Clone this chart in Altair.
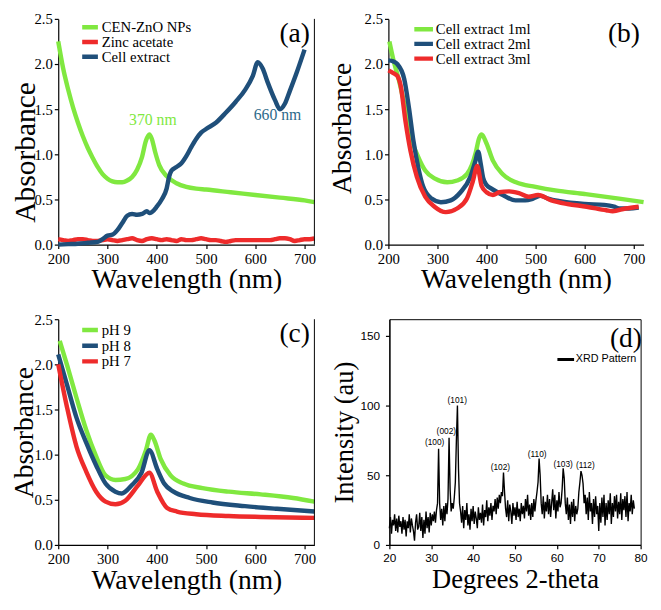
import altair as alt
import pandas as pd
import numpy as np

SERIF = "Liberation Serif"
SANS = "Liberation Sans"
GREEN = "#80e840"
RED = "#ee2b2b"
BLUE = "#1f4f7a"
LEG_PATH = "M-3,0H3"

# ---------------- Panel (a) ----------------
a_green_x = [200, 210, 220, 230, 240, 250, 260, 270, 280, 290, 300, 310, 320, 330, 340, 350, 360, 370, 378, 385, 390, 397, 405, 420, 440, 460, 480, 500, 550, 600, 650, 700, 720]
a_green_y = [2.25, 1.95, 1.72, 1.52, 1.35, 1.20, 1.07, 0.96, 0.86, 0.78, 0.73, 0.70, 0.69, 0.69, 0.71, 0.75, 0.83, 0.97, 1.15, 1.22, 1.17, 1.02, 0.88, 0.76, 0.68, 0.64, 0.62, 0.61, 0.58, 0.55, 0.52, 0.49, 0.47]
a_red_x = list(range(200, 730, 10))
a_red_y = [0.06, 0.05, 0.04, 0.05, 0.06, 0.06, 0.05, 0.04, 0.04, 0.05, 0.06, 0.05, 0.04, 0.05, 0.06, 0.07, 0.05, 0.04, 0.06, 0.07,
           0.06, 0.05, 0.06, 0.05, 0.04, 0.06, 0.05, 0.05, 0.06, 0.07, 0.06, 0.05, 0.05, 0.04, 0.03, 0.04, 0.05, 0.05, 0.05, 0.05,
           0.05, 0.05, 0.05, 0.05, 0.06, 0.07, 0.07, 0.06, 0.04, 0.05, 0.06, 0.06, 0.07]
a_blue_x = [200, 220, 240, 260, 280, 290, 300, 310, 320, 330, 340, 350, 360, 370, 380, 385, 390, 400, 410, 420, 425, 430, 440, 450, 460, 470, 480, 490, 500, 520, 540, 560, 580, 595, 605, 615, 625, 640, 650, 660, 670, 685, 700]
a_blue_y = [0.0, 0.005, 0.01, 0.02, 0.03, 0.06, 0.10, 0.11, 0.16, 0.24, 0.32, 0.34, 0.33, 0.34, 0.37, 0.35, 0.36, 0.42, 0.50, 0.62, 0.75, 0.82, 0.86, 0.90, 0.98, 1.08, 1.17, 1.24, 1.28, 1.35, 1.46, 1.58, 1.72, 1.87, 2.02, 1.95, 1.80, 1.60, 1.50, 1.56, 1.70, 1.92, 2.16]
a_names = ["CEN-ZnO NPs", "Zinc acetate", "Cell extract"]

# ---------------- Panel (b) ----------------
b_green_x = [202, 210, 220, 230, 240, 250, 260, 275, 295, 320, 340, 360, 370, 378, 385, 390, 400, 413, 433, 460, 500, 540, 600, 670, 720]
b_green_y = [2.25, 2.05, 1.85, 1.62, 1.38, 1.12, 0.98, 0.82, 0.73, 0.69, 0.71, 0.78, 0.88, 1.02, 1.18, 1.22, 1.12, 0.93, 0.78, 0.69, 0.64, 0.60, 0.56, 0.51, 0.47]
b_blue_x = [200, 210, 218, 232, 242, 251, 261, 271, 288, 307, 327, 347, 367, 377, 383, 388, 393, 400, 410, 433, 459, 479, 495, 510, 525, 550, 600, 640, 660, 670, 690, 710]
b_blue_y = [2.04, 2.03, 2.00, 1.84, 1.51, 1.15, 0.85, 0.64, 0.51, 0.47, 0.49, 0.58, 0.75, 0.92, 1.03, 0.90, 0.74, 0.66, 0.62, 0.55, 0.49, 0.49, 0.51, 0.54, 0.51, 0.48, 0.45, 0.44, 0.42, 0.40, 0.40, 0.41]
b_red_x = [200, 210, 218, 225, 235, 245, 258, 275, 294, 317, 340, 360, 372, 381, 390, 400, 413, 426, 446, 466, 486, 505, 532, 565, 604, 644, 657, 683, 710]
b_red_y = [1.93, 1.90, 1.87, 1.76, 1.36, 1.04, 0.75, 0.53, 0.42, 0.36, 0.40, 0.51, 0.70, 0.87, 0.65, 0.58, 0.55, 0.58, 0.59, 0.57, 0.53, 0.55, 0.49, 0.45, 0.42, 0.38, 0.37, 0.40, 0.42]
b_names = ["Cell extract 1ml", "Cell extract 2ml", "Cell extract 3ml"]

# ---------------- Panel (c) ----------------
c_green_x = [203, 218, 237, 257, 277, 296, 316, 336, 362, 378, 388, 395, 408, 428, 454, 493, 546, 611, 677, 720]
c_green_y = [2.26, 1.99, 1.63, 1.27, 0.98, 0.77, 0.72, 0.73, 0.84, 1.05, 1.22, 1.16, 0.95, 0.77, 0.68, 0.63, 0.59, 0.56, 0.52, 0.48]
c_blue_x = [200, 218, 237, 257, 277, 296, 316, 329, 349, 369, 385, 401, 415, 434, 467, 513, 579, 644, 720]
c_blue_y = [2.11, 1.77, 1.41, 1.13, 0.88, 0.68, 0.59, 0.57, 0.66, 0.80, 1.05, 0.84, 0.68, 0.59, 0.52, 0.47, 0.43, 0.40, 0.37]
c_red_x = [200, 218, 237, 257, 277, 296, 316, 336, 362, 385, 401, 421, 441, 480, 546, 611, 720]
c_red_y = [2.00, 1.52, 1.09, 0.81, 0.59, 0.48, 0.45, 0.49, 0.66, 0.80, 0.59, 0.41, 0.37, 0.34, 0.32, 0.31, 0.30]
c_names = ["pH 9", "pH 8", "pH 7"]

# ---------------- Panel (d) ----------------
d_start, d_step = 20.0, 0.25
d_int = [
    12, 20, 8, 18,   14, 22, 10, 19,   9, 21, 13, 17,   8, 20, 11, 18,   6, 17, 12, 22,
    9, 19, 14, 10,   3, 16, 22, 11,   13, 23, 10, 20,   5, 18, 8, 24,    12, 20, 9, 23,
    14, 22, 17, 24,  16, 25, 30, 69,  30, 18, 26, 14,   28, 17, 30, 22,  33, 77, 40, 24,
    30, 26, 34, 45,  75, 100, 55, 30, 24, 16, 28, 12,   25, 18, 30, 14,  22, 11, 26, 17,
    28, 15, 24, 19,  12, 27, 18, 23,  16, 29, 14, 25,   20, 32, 17, 27,  21, 30, 18, 28,
    24, 33, 22, 34,  26, 36, 30, 38,  35, 52, 38, 26,   20, 32, 17, 29,  24, 15, 30, 21,
    27, 18, 31, 20,  26, 17, 30, 22,  28, 19, 33, 24,   36, 21, 29, 18,  30, 20, 33, 24,
    32, 38, 45, 62,  50, 30, 22, 35,  19, 31, 24, 36,   22, 33, 20, 30,  40, 25, 36, 19,
    32, 24, 38, 27,  30, 40, 55, 48,  30, 22, 34, 18,   29, 15, 31, 20,  33, 17, 28, 22,
    26, 38, 45, 53,  50, 44, 30, 36,  22, 34, 18, 38,   24, 30, 15, 33,  20, 35, 22, 28,
    10, 30, 16, 34,  20, 36, 14, 30,  18, 32, 22, 37,   15, 30, 20, 35,  24, 36, 19, 31,
    22, 37, 18, 33,  25, 35, 20, 38,  17, 30, 24, 36,   22, 32, 26,
]
d_theta = [d_start + i * d_step for i in range(len(d_int))]
hkl_labels = ["(100)", "(002)", "(101)", "(102)", "(110)", "(103)", "(112)"]
hkl_x = [30.8, 33.6, 36.2, 46.5, 55.3, 61.5, 66.8]
hkl_y = [74, 81.5, 104, 56, 65, 58, 57]


def frame(names, xs_list, ys_list):
    rows = []
    for n, xs, ys in zip(names, xs_list, ys_list):
        for x, y in zip(xs, ys):
            rows.append({"wl": x, "val": y, "series": n})
    return pd.DataFrame(rows)


def uv_panel(names, xs_list, ys_list, colors, letter, leg_x, leg_y, sym_len, clip_h, right_border,
             ytitle_size, ytitle_x, ytitle_y=None, extra=None, w=261, h=230):
    df = frame(names, xs_list, ys_list)
    xenc = alt.X("wl:Q", scale=alt.Scale(domain=[200, 720], nice=False, zero=False),
                 axis=alt.Axis(values=[200, 300, 400, 500, 600, 700], title="Wavelength (nm)",
                               labelFlush=False, titleFontSize=28, titleY=22, titleBaseline="top",
                               labelPadding=3))
    yaxis_kw = dict(values=[0, 0.5, 1.0, 1.5, 2.0, 2.5], format=".1f", title="Absorbance",
                    titleFontSize=ytitle_size, titleX=ytitle_x, titleAngle=270, titleBaseline="bottom",
                    labelPadding=2)
    if ytitle_y is not None:
        yaxis_kw["titleY"] = ytitle_y
    yenc = alt.Y("val:Q", scale=alt.Scale(domain=[0, 2.5], nice=False), axis=alt.Axis(**yaxis_kw))
    sym_scale = sym_len / 3.0
    col_w = sym_scale + 4.5
    layers = []
    for i, n in enumerate(names):
        leg = None
        if i == 0:
            leg = alt.Legend(title=None, orient="none", legendX=leg_x, legendY=leg_y,
                             symbolType=LEG_PATH, symbolStrokeWidth=4.5, symbolSize=sym_scale ** 2,
                             labelFont=SERIF, labelFontSize=15, labelColor="black",
                             rowPadding=0, clipHeight=clip_h, padding=0,
                             labelOffset=sym_len / 2 - col_w / 2 + 1.5)
        layers.append(
            alt.Chart(df).transform_filter(alt.datum.series == n)
            .mark_line(interpolate="monotone", strokeWidth=4.5)
            .encode(x=xenc, y=yenc,
                    color=alt.Color("series:N", scale=alt.Scale(domain=names, range=colors), legend=leg))
        )
    lab = pd.DataFrame({"x": [680], "y": [2.33], "t": [letter]})
    layers.append(alt.Chart(lab).mark_text(font=SERIF, fontSize=28, color="black", align="center",
                                           baseline="middle")
                  .encode(x=alt.X("x:Q"), y=alt.Y("y:Q"), text="t:N"))
    if right_border:
        rb = pd.DataFrame({"x": [720], "y0": [0], "y1": [2.5]})
        layers.append(alt.Chart(rb).mark_rule(color="black", strokeWidth=1)
                      .encode(x="x:Q", y="y0:Q", y2="y1:Q"))
    if extra is not None:
        layers.extend(extra)
    return alt.layer(*layers).properties(width=w, height=h)


ann = pd.DataFrame({"x": [392, 645], "y": [1.38, 1.44], "t": ["370 nm", "660 nm"], "c": [GREEN, "#2d6a8a"]})
ann_layer = alt.Chart(ann).mark_text(font=SERIF, fontSize=16, align="center", baseline="middle").encode(
    x="x:Q", y="y:Q", text="t:N", color=alt.Color("c:N", scale=None))

pa = uv_panel(a_names, [a_green_x, a_red_x, a_blue_x], [a_green_y, a_red_y, a_blue_y],
              [GREEN, RED, BLUE], "(a)", 24.4, 1.5, 17, 14, True,
              ytitle_size=30, ytitle_x=-18.3, ytitle_y=135.5, extra=[ann_layer], w=261, h=230)
pb = uv_panel(b_names, [b_green_x, b_blue_x, b_red_x], [b_green_y, b_blue_y, b_red_y],
              [GREEN, BLUE, RED], "(b)", 26.4, 3.5, 23, 14, False,
              ytitle_size=28, ytitle_x=-33, ytitle_y=111, w=260, h=230)
pc = uv_panel(c_names, [c_green_x, c_blue_x, c_red_x], [c_green_y, c_blue_y, c_red_y],
              [GREEN, BLUE, RED], "(c)", 24.4, 3.5, 17, 15, True,
              ytitle_size=28, ytitle_x=-20.5, w=261, h=230)

# Panel (d)
ddf = pd.DataFrame({"theta": d_theta, "inten": d_int, "series": "XRD Pattern"})
dx = alt.X("theta:Q", scale=alt.Scale(domain=[20, 80], nice=False, zero=False),
           axis=alt.Axis(values=[20, 30, 40, 50, 60, 70, 80], title="Degrees 2-theta", labelFlush=False,
                         labelFont=SANS, labelFontSize=12, labelPadding=4.3,
                         titleFontSize=27, titleY=22.5, titleBaseline="top"))
dy = alt.Y("inten:Q", scale=alt.Scale(domain=[0, 162], nice=False),
           axis=alt.Axis(values=[0, 50, 100, 150], title="Intensity (au)",
                         labelFont=SANS, labelFontSize=12, labelPadding=6,
                         titleFontSize=27, titleX=-32, titleAngle=270, titleBaseline="bottom"))
d_sym = 23 / 3.0
d_col = d_sym + 3
d_line = alt.Chart(ddf).mark_line(color="black", strokeWidth=1.4).encode(
    x=dx, y=dy,
    color=alt.Color("series:N", scale=alt.Scale(domain=["XRD Pattern"], range=["black"]),
                    legend=alt.Legend(title=None, orient="none", legendX=171.2, legendY=35,
                                      symbolType=LEG_PATH, symbolStrokeWidth=3, symbolSize=d_sym ** 2,
                                      labelFont=SANS, labelFontSize=11, labelColor="black", padding=0,
                                      clipHeight=12, labelOffset=23 / 2 - d_col / 2 + 1.5)))
hkl = pd.DataFrame({"x": hkl_x, "y": hkl_y, "t": hkl_labels})
d_hkl = alt.Chart(hkl).mark_text(font=SANS, fontSize=8.5, color="black", align="center",
                                 baseline="middle").encode(x="x:Q", y="y:Q", text="t:N")
dlab = pd.DataFrame({"x": [76.5], "y": [148], "t": ["(d)"]})
d_letter = alt.Chart(dlab).mark_text(font=SERIF, fontSize=28, color="black", align="center",
                                     baseline="middle").encode(x="x:Q", y="y:Q", text="t:N")
pd_ = alt.layer(d_line, d_hkl, d_letter).properties(
    width=256, height=230, view=alt.ViewBackground(stroke="black", strokeWidth=1))

row1 = alt.hconcat(pa, pb, spacing=5.4).resolve_scale(color="independent")
row2 = alt.hconcat(pc, pd_, spacing=6.4).resolve_scale(color="independent")
chart = alt.vconcat(row1, row2, spacing=19).resolve_scale(color="independent").properties(
    padding={"left": 2.2, "top": -1.5, "right": 0, "bottom": 0}, background="white"
).configure_view(stroke=None).configure_axis(
    grid=False, domainColor="black", tickColor="black", tickSize=4, labelColor="black",
    labelFont=SERIF, labelFontSize=15, titleFont=SERIF, titleFontWeight="normal", titleColor="black",
    domainWidth=1.2, tickWidth=1.2
)

chart.save("out.html", embed_options={"renderer": "svg", "actions": False})
